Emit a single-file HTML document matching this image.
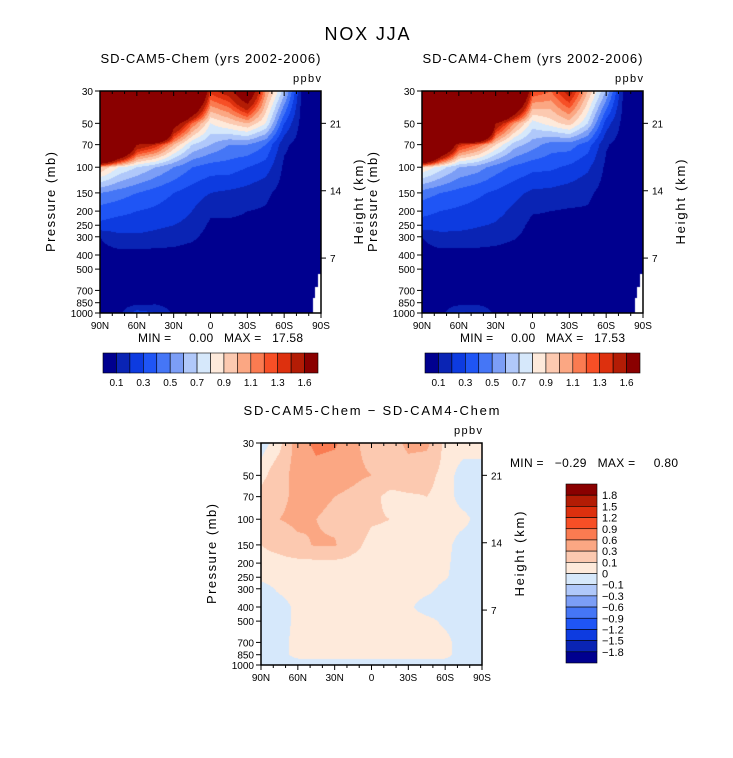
<!DOCTYPE html>
<html><head><meta charset="utf-8">
<style>
html,body{margin:0;padding:0;background:#fff;}
#root{position:relative;width:733px;height:758px;overflow:hidden;font-family:"Liberation Sans",sans-serif;}
canvas{position:absolute;}
svg{position:absolute;left:0;top:0;}
text{font-family:"Liberation Sans",sans-serif;fill:#000;white-space:pre;}
</style></head>
<body>
<div id="root">
<canvas id="c1" width="221" height="222" style="left:100px;top:91px"></canvas>
<canvas id="c2" width="221" height="222" style="left:422px;top:91px"></canvas>
<canvas id="c3" width="221" height="222" style="left:261px;top:443px"></canvas>
<svg id="ov" width="733" height="758"></svg>
</div>
<script>
const lats=[90,75,60,45,30,15,0,-15,-30,-45,-60,-75,-90];
const plevs=[30,50,70,100,150,200,250,300,400,500,700,850,1000];
const cam5=[
[5,5,5,5,5,3,1.35,1.5,2.0,1.1,0.65,0.05,0.05],
[5,5,5,5,1.8,1.2,0.8,0.9,1.0,0.8,0.3,0.05,0.05],
[5,3,1.6,1.4,1.0,0.7,0.6,0.5,0.5,0.4,0.12,0.05,0.05],
[1.0,0.8,0.7,0.6,0.5,0.4,0.35,0.35,0.3,0.25,0.08,0.05,0.05],
[0.5,0.45,0.4,0.35,0.3,0.25,0.2,0.18,0.16,0.12,0.06,0.05,0.05],
[0.35,0.33,0.3,0.28,0.25,0.2,0.12,0.12,0.1,0.09,0.05,0.05,0.05],
[0.28,0.25,0.25,0.22,0.2,0.17,0.08,0.08,0.08,0.07,0.05,0.05,0.05],
[0.1,0.18,0.18,0.17,0.15,0.12,0.06,0.06,0.05,0.05,0.05,0.05,0.05],
[0.06,0.06,0.06,0.06,0.06,0.05,0.05,0.05,0.05,0.05,0.05,0.05,0.05],
[0.05,0.05,0.05,0.05,0.05,0.05,0.05,0.05,0.05,0.05,0.05,0.05,0.05],
[0.05,0.05,0.05,0.05,0.05,0.05,0.05,0.05,0.05,0.05,0.05,0.05,0.05],
[0.05,0.05,0.06,0.08,0.06,0.05,0.05,0.05,0.05,0.05,0.05,0.05,0.05],
[0.05,0.06,0.25,0.2,0.08,0.05,0.05,0.05,0.05,0.05,0.05,0.05,0.05]];
const cam4=[
[5,5,5,5,5,3,1.3,1.2,1.5,1.0,0.6,0.05,0.05],
[5,5,5,5,1.6,1.1,0.75,0.85,0.95,0.7,0.25,0.05,0.05],
[5,2.6,1.4,1.2,0.9,0.65,0.55,0.45,0.45,0.35,0.11,0.05,0.05],
[0.9,0.75,0.6,0.55,0.45,0.38,0.33,0.32,0.28,0.22,0.08,0.05,0.05],
[0.45,0.4,0.36,0.32,0.28,0.23,0.18,0.17,0.15,0.12,0.06,0.05,0.05],
[0.33,0.3,0.28,0.26,0.23,0.18,0.11,0.1,0.09,0.09,0.05,0.05,0.05],
[0.26,0.24,0.23,0.21,0.19,0.15,0.07,0.07,0.07,0.06,0.05,0.05,0.05],
[0.1,0.17,0.17,0.16,0.14,0.11,0.06,0.06,0.05,0.05,0.05,0.05,0.05],
[0.06,0.06,0.06,0.06,0.06,0.05,0.05,0.05,0.05,0.05,0.05,0.05,0.05],
[0.05,0.05,0.05,0.05,0.05,0.05,0.05,0.05,0.05,0.05,0.05,0.05,0.05],
[0.05,0.05,0.05,0.05,0.05,0.05,0.05,0.05,0.05,0.05,0.05,0.05,0.05],
[0.05,0.05,0.06,0.08,0.06,0.05,0.05,0.05,0.05,0.05,0.05,0.05,0.05],
[0.05,0.06,0.22,0.18,0.08,0.05,0.05,0.05,0.05,0.05,0.05,0.05,0.05]];
const diff=[
[-0.05,0.05,0.4,0.7,0.65,0.35,0.2,0.2,0.35,0.35,0.05,0.05,0.05],
[0.05,0.2,0.4,0.45,0.4,0.35,0.3,0.2,0.2,0.15,0.05,-0.05,-0.05],
[0.15,0.25,0.35,0.35,0.3,0.25,0.15,0.05,0.08,0.1,0.05,-0.05,-0.05],
[0.2,0.3,0.35,0.3,0.25,0.2,0.12,0.1,0.05,0.05,0.05,0.03,-0.05],
[0.1,0.15,0.25,0.32,0.32,0.15,0.05,0.05,0.05,0.05,0.03,-0.05,-0.05],
[0.05,0.05,0.05,0.05,0.05,0.05,0.05,0.05,0.05,0.05,0.02,-0.05,-0.05],
[0.03,0.05,0.05,0.05,0.05,0.05,0.05,0.05,0.05,0.04,0.01,-0.05,-0.05],
[-0.05,0.02,0.05,0.05,0.05,0.05,0.05,0.05,0.05,0.03,-0.03,-0.05,-0.05],
[-0.05,-0.05,0.03,0.05,0.05,0.05,0.05,0.05,0.02,-0.05,-0.05,-0.05,-0.05],
[-0.05,-0.05,0.03,0.05,0.05,0.05,0.05,0.05,0.05,0.03,-0.02,-0.05,-0.05],
[-0.05,-0.03,0.03,0.05,0.05,0.05,0.05,0.05,0.05,0.05,0.03,-0.05,-0.05],
[-0.05,-0.03,0.03,0.04,0.04,0.04,0.04,0.04,0.04,0.04,0.03,-0.05,-0.05],
[-0.05,-0.05,-0.05,-0.05,-0.05,-0.05,-0.05,-0.05,-0.05,-0.05,-0.05,-0.05,-0.05]];
const levelsAbs=[0.1,0.2,0.3,0.4,0.5,0.6,0.7,0.8,0.9,1.0,1.1,1.2,1.3,1.4,1.6];
const levelsDiff=[-1.8,-1.5,-1.2,-0.9,-0.6,-0.3,-0.1,0,0.1,0.3,0.6,0.9,1.2,1.5,1.8];
const absLabels=["0.1","0.3","0.5","0.7","0.9","1.1","1.3","1.6"];
const diffLabels=["1.8","1.5","1.2","0.9","0.6","0.3","0.1","0","\u22120.1","\u22120.3","\u22120.6","\u22120.9","\u22121.2","\u22121.5","\u22121.8"];
const presTicks=[30,50,70,100,150,200,250,300,400,500,700,850,1000];
const heightTicks=[[21,50],[14,145],[7,420]];
const latTicks=["90N","60N","30N","0","30S","60S","90S"];
const colors=["#00008f","#0a24b4","#0d3be0","#1f55f5","#4576f6","#7c9ef6","#b0c8fa","#d6e8fb","#feeadb","#fcc9b0","#fba783","#fa7b51","#f74f26","#dd300e","#b31c05","#8a0000"];
function hex(c){return [parseInt(c.substr(1,2),16),parseInt(c.substr(3,2),16),parseInt(c.substr(5,2),16)];}
const rgb=colors.map(hex);
const LR=Math.log(1000/30);
function fracOfP(p){return Math.log(p/30)/LR;}
function render(id,data,levels,mask){
  const cv=document.getElementById(id),ctx=cv.getContext('2d');
  const W=cv.width,H=cv.height,img=ctx.createImageData(W,H);
  const lp=plevs.map(p=>Math.log(p));
  for(let y=0;y<H;y++){
    const l=Math.log(30)+(y+0.5)/H*LR;
    let i=0;while(i<lp.length-2&&l>lp[i+1])i++;
    const t=Math.min(1,Math.max(0,(l-lp[i])/(lp[i+1]-lp[i])));
    for(let x=0;x<W;x++){
      const lat=90-(x+0.5)/W*180;
      let j=Math.min(11,Math.floor((90-lat)/15));
      const s=(90-lat)/15-j;
      const v=(1-t)*((1-s)*data[i][j]+s*data[i][j+1])+t*((1-s)*data[i+1][j]+s*data[i+1][j+1]);
      let k=0;while(k<levels.length&&v>=levels[k])k++;
      let c=rgb[k];
      if(mask&&((x>=W-3&&y>=H*0.82)||(x>=W-6&&y>=H*0.88)||(x>=W-8&&y>=H*0.93)))c=[255,255,255];
      const o=(y*W+x)*4;img.data[o]=c[0];img.data[o+1]=c[1];img.data[o+2]=c[2];img.data[o+3]=255;
    }
  }
  ctx.putImageData(img,0,0);
}
render('c1',cam5,levelsAbs,true);
render('c2',cam4,levelsAbs,true);
render('c3',diff,levelsDiff,false);

const NS="http://www.w3.org/2000/svg",ov=document.getElementById('ov');
function el(tag,attrs,txt){const e=document.createElementNS(NS,tag);for(const k in attrs)e.setAttribute(k,attrs[k]);if(txt!==undefined)e.textContent=txt;ov.appendChild(e);return e;}
function txt(x,y,s,size,anchor,name,rot,len){
  const e=el('text',{x:x,y:y,'font-size':size,'text-anchor':anchor||'middle'},s);
  if(len){e.setAttribute('textLength',len);e.setAttribute('lengthAdjust','spacing');}
  if(rot)e.setAttribute('transform','rotate(-90 '+x+' '+y+')');
  
  
  return e;
}
txt(367,40,"NOX JJA",18,'middle','figure-title',false,85);
function panel(L,T,title,mm,prefix,tlen){
  const W=221,H=222;
  txt(L+W/2,T-28,title,13,'middle',prefix+'-title',false,tlen);
  txt(L+W,T-9,"ppbv",11,'end',prefix+'-units-label',false,28);
  const f=el('rect',{x:L,y:T,width:W,height:H,fill:'none',stroke:'#000','stroke-width':1.5});
  
  
  presTicks.forEach(p=>{
    const y=T+fracOfP(p)*H;
    el('line',{x1:L-5,x2:L,y1:y,y2:y,stroke:'#000'});
    txt(L-7,y+4,String(p),10,'end',prefix+'-pressure-tick-'+p);
  });
  heightTicks.forEach(h=>{
    const y=T+fracOfP(h[1])*H;
    el('line',{x1:L+W,x2:L+W+5,y1:y,y2:y,stroke:'#000'});
    txt(L+W+9,y+4,String(h[0]),10,'start',prefix+'-height-tick-'+h[0]);
  });
  for(let k=0;k<=18;k++){
    const x=L+k*W/18,major=k%3===0;
    el('line',{x1:x,x2:x,y1:T,y2:T+(major?5:3),stroke:'#000'});
    el('line',{x1:x,x2:x,y1:T+H,y2:T+H+(major?5:3),stroke:'#000'});
  }
  latTicks.forEach((s,k)=>txt(L+k*W/6,T+H+16,s,10,'middle',prefix+'-lat-tick-'+s));
  txt(L-45,T+H/2,"Pressure (mb)",13,'middle',prefix+'-y-axis-title',true,100);
  txt(L+W+42,T+H/2,"Height (km)",13,'middle',prefix+'-y2-axis-title',true,85);
  if(mm)txt(L+W/2+10,T+H+29,mm,12,'middle',prefix+'-min-max',false,165);
}
panel(100,91,"SD-CAM5-Chem (yrs 2002-2006)","MIN =     0.00   MAX =   17.58","cam5",220);
panel(422,91,"SD-CAM4-Chem (yrs 2002-2006)","MIN =     0.00   MAX =   17.53","cam4",220);
panel(261,443,"SD-CAM5-Chem \u2212 SD-CAM4-Chem",null,"diff",256);
txt(510,467,"MIN =   \u22120.29   MAX =     0.80",12,'start','diff-min-max',false,168);
function hbar(L,T,prefix){
  const bw=215/16;
  colors.forEach((c,k)=>{
    const r=el('rect',{x:L+k*bw,y:T,width:bw,height:20,fill:c,stroke:'#000','stroke-width':0.6});
    
    
  });
  absLabels.forEach((s,k)=>txt(L+(1+2*k)*bw,T+33,s,10,'middle',prefix+'-colorbar-label'));
}
hbar(103,353,'cam5');hbar(425,353,'cam4');
(function(){
  const L=566,T=484,bh=179/16;
  colors.slice().reverse().forEach((c,k)=>{
    const r=el('rect',{x:L,y:T+k*bh,width:31,height:bh,fill:c,stroke:'#000','stroke-width':0.6});
    
    
  });
  diffLabels.forEach((s,k)=>txt(L+36,T+(k+1)*bh+4,s,11,'start','diff-colorbar-label'));
})();
</script>
</body></html>
